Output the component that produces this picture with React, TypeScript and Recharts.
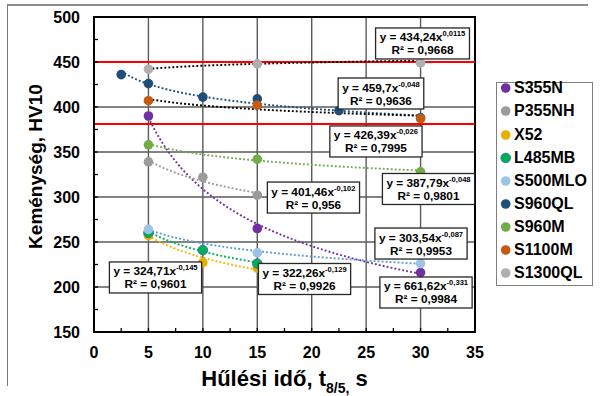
import React from 'react';
import {
  ComposedChart,
  Line,
  Scatter,
  XAxis,
  YAxis,
  CartesianGrid,
  ReferenceLine,
  ReferenceArea,
  ReferenceDot,
  Legend,
  Label,
} from 'recharts';

const FONT = '"Liberation Sans", Arial, Helvetica, sans-serif';

// Steel grades in legend order
const grades = ['S355N', 'P355NH', 'X52', 'L485MB', 'S500MLO', 'S960QL', 'S960M', 'S1100M', 'S1300QL'];
const gradeColors = ['#7030A0', '#9B9B9B', '#E8AE00', '#00B050', '#9DC3E6', '#1F4E79', '#70AD47', '#C55A11', '#AFAFAF'];
const trendColors = ['#7030A0', '#9B9B9B', '#F2B800', '#00B050', '#5B9BD5', '#1F4E79', '#70AD47', '#000000', '#000000'];

// Cooling time t8/5 (s) and hardness HV10 per grade
const s355nTime = [5, 15, 30];
const s355nHV = [390, 265, 216];
const p355nhTime = [5, 10, 15];
const p355nhHV = [339, 322, 302];
const x52Time = [5, 10, 15];
const x52HV = [257, 227, 221];
const l485mbTime = [5, 10, 15];
const l485mbHV = [260, 241, 226];
const s500mloTime = [5, 15, 30];
const s500mloHV = [264, 238, 226];
const s960qlTime = [2.5, 5, 10, 15, 22.5, 30];
const s960qlHV = [436, 426, 411, 409, 396, 388];
const s960mTime = [5, 15, 30];
const s960mHV = [358, 342, 328];
const s1100mTime = [5, 15, 30];
const s1100mHV = [407, 402, 387];
const s1300qlTime = [5, 15, 30];
const s1300qlHV = [442, 448, 449];

// Power-law fits y = a * x^b and their R²
const fitA = [661.62, 401.46, 324.71, 322.26, 303.54, 459.7, 387.79, 426.39, 434.24];
const fitB = [-0.331, -0.102, -0.145, -0.129, -0.087, -0.048, -0.048, -0.026, 0.0115];
const fitR2 = [0.9984, 0.956, 0.9601, 0.9926, 0.9953, 0.9636, 0.9801, 0.7995, 0.9668];

// Where each equation box sits (centre, in axis units)
const eqBoxTime = [30.5, 20.16, 5.65, 19.34, 30.04, 26.36, 30.73, 25.9, 30.18];
const eqBoxHV = [193.9, 299.4, 210.6, 208.9, 248.3, 415, 308.9, 361.7, 470.6];

// Hardness limits (red lines)
const limitHV = [450, 381];

// Axis ticks
const xTicks = [0, 2.5, 5, 7.5, 10, 12.5, 15, 17.5, 20, 22.5, 25, 27.5, 30, 32.5, 35];
const yTicks = [150, 175, 200, 225, 250, 275, 300, 325, 350, 375, 400, 425, 450, 475, 500];
const xGrid = [5, 10, 15, 20, 25, 30];
const yGrid = [200, 250, 300, 350, 400, 450];

const gradeTimes = [s355nTime, p355nhTime, x52Time, l485mbTime, s500mloTime, s960qlTime, s960mTime, s1100mTime, s1300qlTime];
const gradeHVs = [s355nHV, p355nhHV, x52HV, l485mbHV, s500mloHV, s960qlHV, s960mHV, s1100mHV, s1300qlHV];

const series = grades.map((name, i) => ({
  name,
  color: gradeColors[i],
  points: gradeTimes[i].map((t, k) => ({ t, hv: gradeHVs[i][k] })),
}));

function trendPoints(ts: number[], a: number, b: number) {
  const lo = Math.min(...ts);
  const hi = Math.max(...ts);
  const pts: { t: number; hv: number }[] = [];
  for (let t = lo; t <= hi + 1e-9; t += 0.25) pts.push({ t, hv: a * Math.pow(t, b) });
  return pts;
}

const trends = grades.map((name, i) => ({
  name,
  color: trendColors[i],
  points: trendPoints(gradeTimes[i], fitA[i], fitB[i]),
}));

const fmt = (v: number) => String(v).replace('.', ',');

const glyphW: Record<string, number> = {
  ' ': 0.278, ',': 0.278, '=': 0.584, '-': 0.333, R: 0.722, '²': 0.333, y: 0.556, x: 0.556,
};
const textWidth = (s: string, size: number) => {
  let w = 0;
  for (const ch of s) w += glyphW[ch] ?? 0.556;
  return w * size;
};

function EqBox(props: any) {
  const { cx, cy, idx } = props;
  if (cx == null || cy == null) return null;
  const main = `y = ${fmt(fitA[idx])}x`;
  const sup = fmt(fitB[idx]);
  const line2 = `R² = ${fmt(fitR2[idx])}`;
  const w = Math.max(textWidth(main, 11.8) + textWidth(sup, 7.6), textWidth(line2, 11.8)) + 8;
  const h = 31;
  return (
    <g>
      <rect x={cx - w / 2} y={cy - h / 2} width={w} height={h} fill="#fff" stroke="#262626" strokeWidth={1.3} />
      <text x={cx} y={cy - 2} textAnchor="middle" fontFamily={FONT} fontWeight="bold" fontStyle="normal" fontSize={11.8} fill="#000">
        <tspan>{main}</tspan>
        <tspan fontSize={7.6} dy={-5}>{sup}</tspan>
      </text>
      <text x={cx} y={cy + 11} textAnchor="middle" fontFamily={FONT} fontWeight="bold" fontStyle="normal" fontSize={11.8} fill="#000">
        {line2}
      </text>
    </g>
  );
}

const renderYLabel = (props: any) => {
  const vb = props.viewBox || {};
  const x = vb.x + 8;
  const y = vb.y + vb.height / 2 - 8;
  return (
    <text
      x={x}
      y={y}
      transform={`rotate(-90, ${x}, ${y})`}
      textAnchor="middle"
      fontFamily={FONT}
      fontWeight="bold"
      fontStyle="normal"
      fontSize={19}
      fill="#000"
    >
      Keménység, HV10
    </text>
  );
};

const renderXLabel = (props: any) => {
  const vb = props.viewBox || {};
  const x = vb.x + vb.width / 2;
  const y = vb.y + 54;
  return (
    <text x={x} y={y} textAnchor="middle" fontFamily={FONT} fontWeight="bold" fontStyle="normal" fontSize={22} fill="#000">
      <tspan>Hűlési idő, t</tspan>
      <tspan fontSize={14} dy={7}>8/5,</tspan>
      <tspan dy={-7}> s</tspan>
    </text>
  );
};

const renderLegend = () => (
  <div
    style={{
      position: 'relative',
      width: 97,
      height: 204,
      border: '1px solid #7f7f7f',
      boxSizing: 'border-box',
      background: '#fff',
      fontFamily: FONT,
    }}
  >
    {series.map((s, i) => (
      <div
        key={s.name}
        style={{
          position: 'absolute',
          left: 0,
          top: 5.3 + i * 23.1 - 10,
          height: 20,
          display: 'flex',
          alignItems: 'center',
          whiteSpace: 'nowrap',
        }}
      >
        <svg width={17} height={20}>
          <circle cx={8.7} cy={10} r={4.8} fill={s.color} stroke={s.name === 'L485MB' ? '#3A76B0' : 'none'} strokeWidth={1} />
        </svg>
        <span style={{ fontSize: 16, fontWeight: 'bold', color: '#000', lineHeight: '20px' }}>{s.name}</span>
      </div>
    ))}
  </div>
);

const tickStyle = { fontSize: 16, fontWeight: 'bold', fill: '#000', fontFamily: FONT };

export default function App() {
  return (
    <div style={{ fontFamily: FONT }}>
      <div
        style={{
          position: 'absolute',
          left: 7,
          top: 4,
          width: 580,
          height: 380,
          borderTop: '2px solid #8c8c8c',
          borderLeft: '1px solid #7a7a7a',
          pointerEvents: 'none',
        }}
      />
      <ComposedChart width={593} height={388} margin={{ top: 9, right: 126, bottom: 34, left: 26 }}>
        <CartesianGrid
          horizontalValues={yGrid}
          verticalValues={xGrid}
          stroke="#5a5a5a"
          strokeWidth={1.4}
        />
        <XAxis
          type="number"
          dataKey="t"
          domain={[0, 35]}
          ticks={xTicks}
          interval={0}
          allowDataOverflow
          tickSize={-4}
          tickMargin={19}
          height={30}
          tick={tickStyle}
          tickFormatter={(v: number) => (v % 5 === 0 ? String(v) : '')}
          axisLine={{ stroke: '#000', strokeWidth: 2 }}
          tickLine={{ stroke: '#000', strokeWidth: 1.3 }}
          label={<Label content={renderXLabel} />}
        />
        <YAxis
          type="number"
          dataKey="hv"
          domain={[150, 500]}
          ticks={yTicks}
          interval={0}
          allowDataOverflow
          tickSize={-4}
          tickMargin={18}
          width={60}
          tick={tickStyle}
          tickFormatter={(v: number) => (v % 50 === 0 ? String(v) : '')}
          axisLine={{ stroke: '#000', strokeWidth: 2 }}
          tickLine={{ stroke: '#000', strokeWidth: 1.3 }}
          label={<Label content={renderYLabel} />}
        />
        {limitHV.map((v) => (
          <ReferenceLine key={`lim-${v}`} y={v} stroke="#FF0000" strokeWidth={2} />
        ))}
        {trends.map((tr) => (
          <Line
            key={`trend-${tr.name}`}
            data={tr.points}
            dataKey="hv"
            stroke={tr.color}
            strokeWidth={1.9}
            strokeDasharray="1.9 2.1"
            dot={false}
            activeDot={false}
            isAnimationActive={false}
            legendType="none"
          />
        ))}
        {series.map((s) => (
          <Scatter
            key={`pts-${s.name}`}
            name={s.name}
            data={s.points}
            dataKey="hv"
            fill={s.color}
            isAnimationActive={false}
            shape={(p: any) => (
              <circle
                cx={p.cx}
                cy={p.cy}
                r={4.8}
                fill={s.color}
                stroke={s.name === 'L485MB' ? '#3A76B0' : 'none'}
                strokeWidth={1}
              />
            )}
          />
        ))}
        <ReferenceArea x1={0} x2={35} y1={150} y2={500} fill="none" stroke="#000" strokeWidth={2} />
        {grades.map((g, i) => (
          <ReferenceDot
            key={`eq-${g}`}
            x={eqBoxTime[i]}
            y={eqBoxHV[i]}
            r={0}
            shape={(p: any) => <EqBox {...p} idx={i} />}
          />
        ))}
        <Legend
          layout="horizontal"
          verticalAlign="middle"
          align="center"
          wrapperStyle={{ left: 488, top: 74, width: 97, height: 204 }}
          content={renderLegend}
        />
      </ComposedChart>
    </div>
  );
}
